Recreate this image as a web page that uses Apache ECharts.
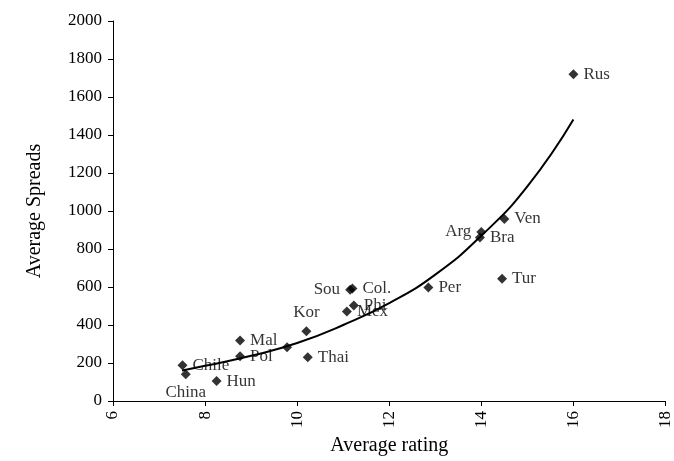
<!DOCTYPE html>
<html>
<head>
<meta charset="utf-8">
<script src="https://cdn.jsdelivr.net/npm/echarts@6/dist/echarts.min.js"></script>
<style>html,body{margin:0;padding:0;background:#fff}#main{width:674px;height:461px}</style>
</head>
<body>
<div id="main"></div>
<script>
'use strict';

// country labels as printed, with average rating (x) and average spread (y)
var countries = ['Rus', 'Ven', 'Arg', 'Bra', 'Tur', 'Per', 'Sou', 'Col.', 'Phi', 'Mex', 'Kor', '', 'Mal', 'Pol', 'Thai', 'Hun', 'Chile', 'China'];
var ratings = [16.0, 14.5, 14.0, 13.97, 14.45, 12.85, 11.15, 11.2, 11.23, 11.08, 10.2, 9.78, 8.76, 8.76, 10.23, 8.25, 7.51, 7.58];
var spreads = [1720, 958, 890, 860, 644, 597, 585, 592, 503, 471, 367, 283, 319, 236, 230, 105, 188, 141];

// trend line
var trendX = [7.5, 8, 9, 10, 11, 12, 13, 14, 15, 16];
var trendY = [160, 185, 238, 305, 400, 515, 665, 870, 1130, 1482];

var xMin = 6, xMax = 18, xStep = 2;
var yMin = 0, yMax = 2000, yStep = 200;

// where each label sits next to its marker
var labelPlace = {
	'Rus': ['right', [6, 0]],
	'Ven': ['right', [9, 0]],
	'Arg': ['left', [0, -7]],
	'Bra': ['right', [6, 5]],
	'Tur': ['right', [16, 0]],
	'Per': ['right', [3, 0]],
	'Sou': ['left', [5, -3]],
	'Col.': ['right', [-5, -12]],
	'Phi': ['right', [10, -2]],
	'Mex': ['right', [4, 13]],
	'Kor': ['top', [0, 8]],
	'Mal': ['right', [2, 0]],
	'Pol': ['right', [2, 7]],
	'Thai': ['right', [3, -7]],
	'Hun': ['right', [1, 3]],
	'Chile': ['right', [-6, -5]],
	'China': ['bottom', [1, 0]]
};

var font = 'Liberation Serif';

var points = [];
for (var i = 0; i < countries.length; i++) {
	var p = { name: countries[i], value: [ratings[i], spreads[i]] };
	var place = labelPlace[countries[i]];
	if (place) {
		p.label = { show: true, position: place[0], offset: place[1] };
	} else {
		p.label = { show: false };
	}
	points.push(p);
}

var trend = [];
for (var j = 0; j < trendX.length; j++) {
	trend.push([trendX[j], trendY[j]]);
}

var myChart = echarts.init(document.getElementById('main'));

var option = {
	backgroundColor: '#fff',
	animation: false,
	grid: { left: 113, right: 5, top: 21, bottom: 58 },
	xAxis: {
		type: 'value',
		min: xMin,
		max: xMax,
		interval: xStep,
		name: 'Average rating',
		nameLocation: 'middle',
		nameGap: 35,
		nameTextStyle: { fontFamily: font, fontSize: 20, color: '#000' },
		axisLine: { lineStyle: { color: '#000', width: 1 } },
		axisTick: { show: true, length: 5, lineStyle: { color: '#000' } },
		axisLabel: { rotate: 90, margin: 10, fontFamily: font, fontSize: 17, color: '#000' },
		splitLine: { show: false }
	},
	yAxis: {
		type: 'value',
		min: yMin,
		max: yMax,
		interval: yStep,
		name: 'Average Spreads',
		nameLocation: 'middle',
		nameGap: 68,
		nameTextStyle: { fontFamily: font, fontSize: 20, color: '#000' },
		axisLine: { show: true, lineStyle: { color: '#000', width: 1 } },
		axisTick: { show: true, length: 5, lineStyle: { color: '#000' } },
		axisLabel: {
			margin: 11,
			fontFamily: font,
			fontSize: 17,
			color: '#000',
			formatter: function(v) { return String(v); }
		},
		splitLine: { show: false }
	},
	series: [
		{
			name: 'Trend',
			type: 'line',
			data: trend,
			smooth: true,
			showSymbol: false,
			lineStyle: { color: '#000', width: 2 },
			z: 1
		},
		{
			name: 'Countries',
			type: 'scatter',
			data: points,
			symbol: 'diamond',
			symbolSize: 10,
			itemStyle: { color: '#000' },
			label: {
				formatter: '{b}',
				fontFamily: font,
				fontSize: 17,
				color: '#000'
			},
			labelLayout: { hideOverlap: false },
			z: 2
		}
	]
};

myChart.setOption(option);
</script>
</body>
</html>
